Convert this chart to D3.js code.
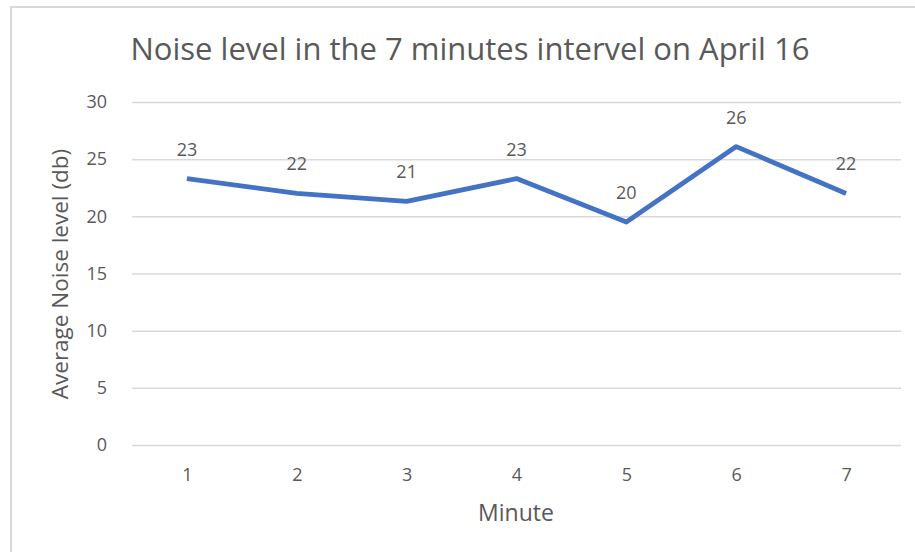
<!DOCTYPE html>
<html><head><meta charset="utf-8">
<script src="https://cdn.jsdelivr.net/npm/d3@7"></script>
<style>body{margin:0;background:#fff}svg{display:block}text{font-family:"Open Sans",sans-serif;fill:#595959}</style>
</head><body>
<script>
const categories = ["1","2","3","4","5","6","7"];
const values = [23.3, 22.0, 21.3, 23.3, 19.5, 26.1, 22.0];
const yTicks = [0, 5, 10, 15, 20, 25, 30];
const title = "Noise level in the 7 minutes intervel on April 16";
const xTitle = "Minute";
const yTitle = "Average Noise level (db)";

const W = 915, H = 552;
const svg = d3.select("body").append("svg").attr("width", W).attr("height", H);
svg.append("rect").attr("x", 11).attr("y", 7).attr("width", W).attr("height", H)
  .attr("fill", "#fff").attr("stroke", "#d9d9d9").attr("stroke-width", 2);

const x = d3.scalePoint().domain(categories).range([132, 901]).padding(0.5);
const y = d3.scaleLinear().domain([0, 30]).range([445, 102]);

const yAxis = svg.append("g").attr("transform", "translate(132,0)")
  .call(d3.axisLeft(y).tickValues(yTicks).tickSize(-(901 - 132)).tickPadding(25));
yAxis.select(".domain").remove();
yAxis.selectAll("line").attr("stroke", "#d9d9d9").attr("stroke-width", 1.5);
yAxis.selectAll("text").attr("font-size", 18).attr("fill", "#595959").style("font-family", "'Open Sans',sans-serif");

const xAxis = svg.append("g").attr("transform", "translate(0,445)")
  .call(d3.axisBottom(x).tickSize(0).tickPadding(23));
xAxis.select(".domain").remove();
xAxis.selectAll("text").attr("font-size", 18).attr("fill", "#595959").style("font-family", "'Open Sans',sans-serif");

const line = d3.line().x((d, i) => x(categories[i])).y(d => y(d));
svg.append("path").datum(values).attr("d", line).attr("fill", "none")
  .attr("stroke", "#4472C4").attr("stroke-width", 4.8).attr("stroke-linejoin", "round");

svg.selectAll(".lbl").data(values).enter().append("text").attr("class", "lbl")
  .attr("x", (d, i) => x(categories[i])).attr("y", d => y(d) - 23)
  .attr("text-anchor", "middle").attr("font-size", 18).text(d => Math.round(d));

svg.append("text").attr("x", 470).attr("y", 60).attr("text-anchor", "middle")
  .attr("font-size", 31).text(title);
svg.append("text").attr("x", 516).attr("y", 521).attr("text-anchor", "middle")
  .attr("font-size", 23).text(xTitle);
svg.append("text").attr("transform", "translate(68,274) rotate(-90)").attr("text-anchor", "middle")
  .attr("font-size", 22.5).text(yTitle);
</script>
</body></html>
